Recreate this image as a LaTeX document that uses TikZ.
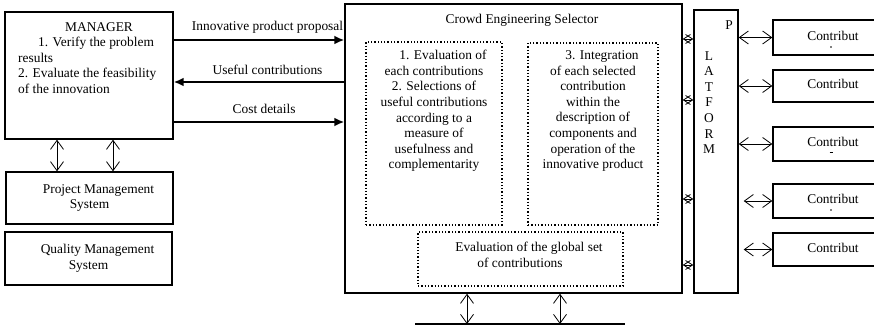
\documentclass[tikz,border=0pt]{standalone}
\usepackage{fontspec}
\setmainfont{Liberation Serif}
\usepackage{tikz}
\usetikzlibrary{positioning,arrows.meta}

\tikzset{
  box/.style={draw, line width=1.4pt, inner sep=0pt, align=center},
  dotbox/.style={draw, dotted, line width=1.3pt, inner sep=0pt},
  txt/.style={inner sep=0pt, align=center},
  flow/.style={line width=2.4pt, -{Latex[length=10pt,width=9pt]}},
  link/.style={line width=0.8pt, {Straight Barb[length=9pt,width=13pt]}-{Straight Barb[length=9pt,width=13pt]}},
  tiny link/.style={line width=0.8pt, {Straight Barb[length=7pt,width=9pt]}-{Straight Barb[length=7pt,width=9pt]}}
}

\begin{document}
\begin{tikzpicture}[x=1pt, y=-1pt, font=\fontsize{13.4}{15.6}\selectfont]
\useasboundingbox (0,0) rectangle (874,326);

% manager side
\node[box, minimum width=168pt, minimum height=127pt] (mgr) at (89,75.5) {};
\node[txt, align=left, anchor=north west] (mgrtxt) at (18,22) {\hspace*{47pt}MANAGER\\\hspace*{20pt}1. Verify the problem\\results\\2. Evaluate the feasibility\\of the innovation};
\node[box, minimum width=167pt, minimum height=52pt] (pms) at (89.5,198) {\hspace*{18pt}Project Management\\System};
\node[box, minimum width=167pt, minimum height=53pt] (qms) at (88.5,258.5) {\hspace*{18pt}Quality Management\\System};
\draw[link] (mgr.south -| 57,0) -- (pms.north -| 57,0);
\draw[link] (mgr.south -| 113,0) -- (pms.north -| 113,0);

% selector
\node[box, minimum width=337pt, minimum height=289pt] (sel) at (513.5,148.5) {};
\node[txt] (seltitle) at (522,20) {Crowd Engineering Selector};
\node[dotbox, minimum width=136pt, minimum height=183pt] (eval) at (434,133.5) {};
\node[txt] (evaltxt) at (434,111) {\hspace*{18pt}1. Evaluation of\\each contributions\\2. Selections of\\useful contributions\\according to a\\measure of\\usefulness and\\complementarity};
\node[dotbox, minimum width=130pt, minimum height=182pt] (integ) at (593,134) {};
\node[txt] (integtxt) at (593,111) {\hspace*{18pt}3. Integration\\of each selected\\contribution\\within the\\description of\\components and\\operation of the\\innovative product};
\node[dotbox, minimum width=205pt, minimum height=54pt] (glob) at (520.5,259) {};
\node[txt] (globtxt) at (520,255) {\hspace*{18pt}Evaluation of the global set\\of contributions};

% manager <-> selector
\draw[flow] (mgr.east |- 0,40) -- node[txt, above=5pt, pos=0.55] (lprop) {Innovative product proposal} (sel.west |- 0,40);
\draw[flow] (sel.west |- 0,82) -- node[txt, above=6pt, pos=0.45] (luseful) {Useful contributions} (mgr.east |- 0,82);
\draw[flow] (mgr.east |- 0,122) -- node[txt, above=7pt, pos=0.53] (lcost) {Cost details} (sel.west |- 0,122);

% bus under the selector
\coordinate (busL) at (415,324);
\coordinate (busR) at (625,324);
\draw[line width=1.4pt] (busL) -- (busR);
\draw[link] (sel.south -| 467,0) -- (busL -| 467,0);
\draw[link] (sel.south -| 560,0) -- (busL -| 560,0);

% platform
\node[box, minimum width=44pt, minimum height=283pt] (plat) at (716,151.5) {};
\node[txt] (platp) at (729,25) {P};
\node[txt] (platl) at (709,102.5) {L\\A\\T\\F\\O\\R\\M};
\foreach \yy in {39,100,199,265}
  \draw[tiny link] (sel.east |- 0,\yy) -- (plat.west |- 0,\yy);

% contributors
\node[box, minimum width=120pt, minimum height=35pt, text depth=3.5pt] (c1) at (833,37.5) {Contribut};
\node[box, minimum width=120pt, minimum height=32pt, text depth=3.5pt] (c2) at (833,86) {Contribut};
\node[box, minimum width=120pt, minimum height=34pt, text depth=3.5pt] (c3) at (833,144) {Contribut};
\node[box, minimum width=120pt, minimum height=34pt, text depth=3.5pt] (c4) at (833,201) {Contribut};
\node[box, minimum width=120pt, minimum height=33pt, text depth=3.5pt] (c5) at (833,249.5) {Contribut};
\fill (831,47) circle (0.8pt);
\draw[line width=0.8pt] (829.5,152.5) -- (832.5,152.5);
\fill (831,210) circle (0.8pt);
\draw[link] (plat.east |- c1) -- (c1.west);
\draw[link] (plat.east |- c2) -- (c2.west);
\draw[link] (plat.east |- c3) -- (c3.west);
\draw[link] ([xshift=5pt]plat.east |- c4) -- (c4.west);
\draw[link] ([xshift=5pt]plat.east |- c5) -- (c5.west);
\end{tikzpicture}
\end{document}
